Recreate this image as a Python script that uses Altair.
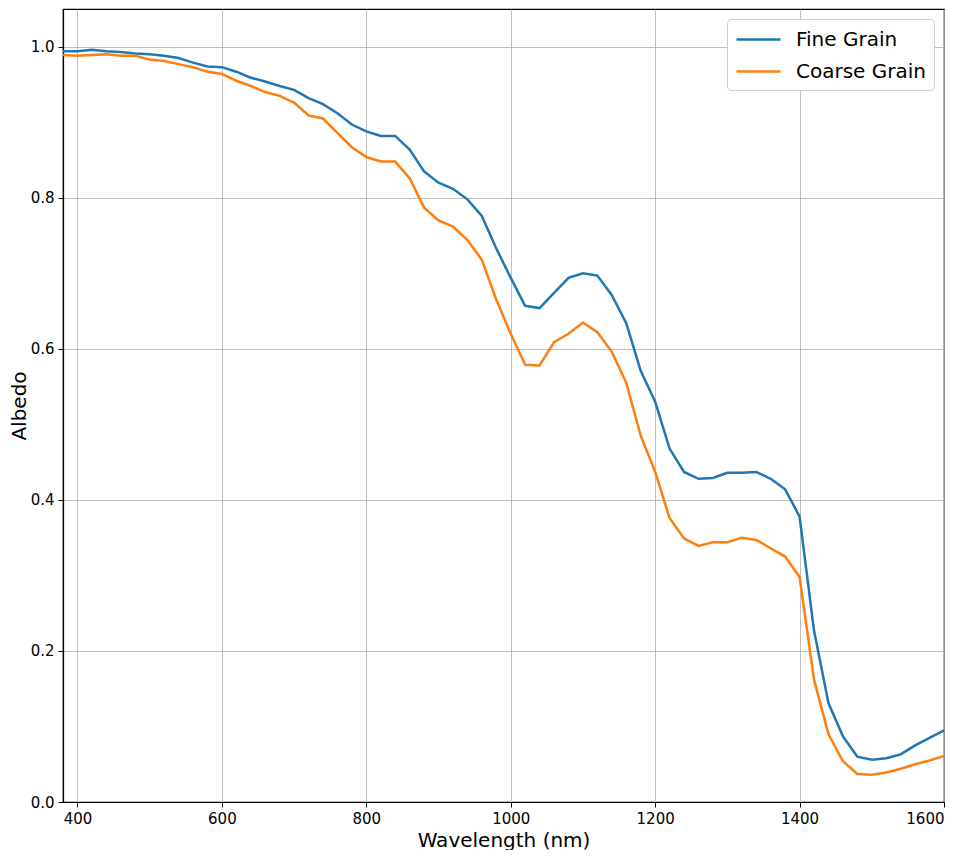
import altair as alt
import pandas as pd

wavelength = list(range(380, 1601, 20))

fine_grain = [
    0.994, 0.994, 0.996, 0.994, 0.993, 0.991, 0.990, 0.988, 0.985, 0.979,
    0.974, 0.973, 0.967, 0.959, 0.954, 0.948, 0.943, 0.932, 0.924, 0.912,
    0.897, 0.888, 0.882, 0.882, 0.864, 0.835, 0.820, 0.812, 0.798, 0.776,
    0.733, 0.694, 0.657, 0.654, 0.674, 0.694, 0.700, 0.697, 0.671, 0.634,
    0.571, 0.530, 0.468, 0.437, 0.428, 0.429, 0.436, 0.436, 0.437, 0.428,
    0.414, 0.378, 0.227, 0.131, 0.087, 0.060, 0.056, 0.058, 0.063, 0.075,
    0.085, 0.095,
]

coarse_grain = [
    0.989, 0.988, 0.989, 0.990, 0.988, 0.988, 0.983, 0.981, 0.977, 0.973,
    0.967, 0.964, 0.955, 0.948, 0.940, 0.935, 0.926, 0.909, 0.905, 0.886,
    0.867, 0.854, 0.848, 0.848, 0.826, 0.787, 0.770, 0.762, 0.744, 0.718,
    0.665, 0.620, 0.579, 0.578, 0.609, 0.620, 0.635, 0.622, 0.596, 0.555,
    0.485, 0.437, 0.376, 0.349, 0.339, 0.344, 0.344, 0.350, 0.347, 0.336,
    0.325, 0.298, 0.162, 0.090, 0.054, 0.037, 0.036, 0.039, 0.044, 0.050,
    0.055, 0.061,
]

series_names = ["Fine Grain", "Coarse Grain"]
series_colors = ["#1f77b4", "#ff7f0e"]

rows = []
for name, vals in zip(series_names, [fine_grain, coarse_grain]):
    for w, v in zip(wavelength, vals):
        rows.append({"Wavelength": w, "Albedo": v, "Series": name})
df = pd.DataFrame(rows)

font = "DejaVu Sans"

chart = alt.Chart(df).mark_line(strokeWidth=2.5, clip=True).encode(
    x=alt.X(
        "Wavelength:Q",
        title="Wavelength (nm)",
        scale=alt.Scale(domain=[380, 1600], nice=False, zero=False),
        axis=alt.Axis(values=[400, 600, 800, 1000, 1200, 1400, 1600], format="d"),
    ),
    y=alt.Y(
        "Albedo:Q",
        title="Albedo",
        scale=alt.Scale(domain=[0, 1.05], nice=False),
        axis=alt.Axis(values=[0, 0.2, 0.4, 0.6, 0.8, 1.0], format=".1f"),
    ),
    color=alt.Color(
        "Series:N",
        scale=alt.Scale(domain=series_names, range=series_colors),
        sort=series_names,
        legend=alt.Legend(
            title=None,
            orient="top-right",
            offset=10,
            symbolType="M-1,0L3,0",
            symbolSize=484,
            symbolStrokeWidth=2.5,
            labelFontSize=20,
            labelFont=font,
            labelColor="black",
            labelOffset=36,
            rowPadding=9,
            fillColor="white",
            strokeColor="#cccccc",
            cornerRadius=4,
            padding=8,
        ),
    ),
    order=alt.Order("Wavelength:Q"),
).properties(
    width=881,
    height=793,
    autosize=alt.AutoSizeParams(type="none"),
    padding={"left": 55, "top": 1, "right": 5, "bottom": 48},
).configure_view(
    stroke="black", strokeWidth=1.2
).configure_axis(
    grid=True,
    gridColor="#b0b0b0",
    gridWidth=0.8,
    domainColor="black",
    domainWidth=1.2,
    tickColor="black",
    tickSize=5,
    tickWidth=1,
    labelFont=font,
    labelFontSize=15,
    labelColor="black",
    labelPadding=4,
    titleFont=font,
    titleFontSize=20,
    titleFontWeight="normal",
    titleColor="black",
).configure_axisY(
    titlePadding=1,
).configure_axisX(
    titlePadding=4,
)

chart.save("out.html", embed_options={"renderer": "svg", "actions": False})
